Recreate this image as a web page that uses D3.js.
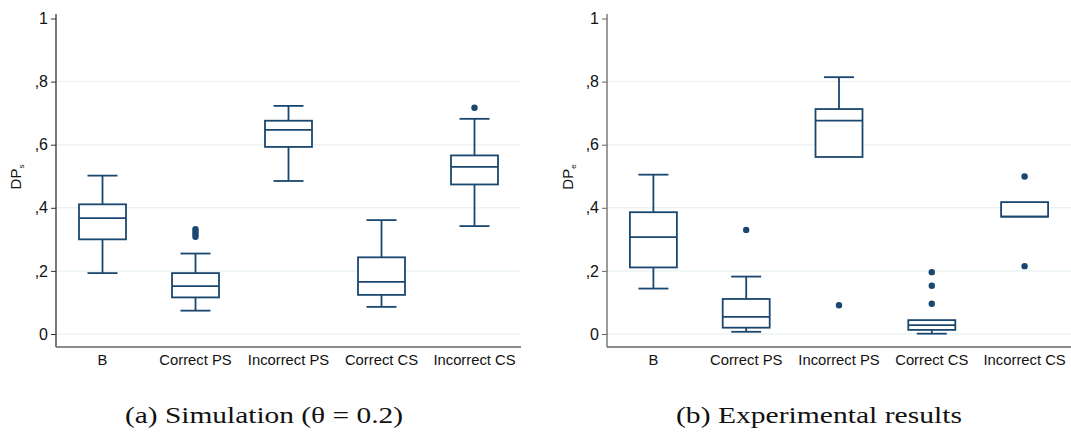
<!DOCTYPE html>
<html><head><meta charset="utf-8">
<script src="https://cdn.jsdelivr.net/npm/d3@7"></script>
<style>body{margin:0;background:#fff}</style>
</head><body>
<svg id="c" width="1071" height="432"></svg>
<script>
const categories = ["B","Correct PS","Incorrect PS","Correct CS","Incorrect CS"];
const yTicks = [0,0.2,0.4,0.6,0.8,1];
const yTickLabels = ["0",",2",",4",",6",",8","1"];

// Panel (a) Simulation
const simLow    = [0.193,0.074,0.485,0.086,0.342];
const simQ1     = [0.300,0.116,0.593,0.124,0.474];
const simMedian = [0.367,0.152,0.647,0.165,0.530];
const simQ3     = [0.411,0.193,0.676,0.243,0.566];
const simHigh   = [0.502,0.255,0.723,0.361,0.682];
const simOutliers = [[],[0.308,0.316,0.324,0.332],[],[],[0.717]];

// Panel (b) Experimental
const expLow    = [0.144,0.007,0.561,0.001,0.372];
const expQ1     = [0.211,0.020,0.561,0.013,0.372];
const expMedian = [0.307,0.054,0.676,0.028,0.372];
const expQ3     = [0.386,0.111,0.713,0.044,0.418];
const expHigh   = [0.505,0.182,0.814,0.044,0.418];
const expOutliers = [[],[0.330],[0.091],[0.096,0.153,0.196],[0.499,0.215]];

const captions = ["(a) Simulation (\u03B8 = 0.2)","(b) Experimental results"];
const yLabelSubs = ["s","e"];

const navy = "#1a476f";
const svg = d3.select("#c");
const sans = "Liberation Sans, Arial, sans-serif";

function panel(x0, x1, lo, q1, med, q3, hi, outl, sub, caption, capX, capW, labX, axisCol){
  const y = d3.scaleLinear().domain([0,1]).range([334,18.5]);
  const x = d3.scaleBand().domain(categories).range([x0,x1]).padding(0);
  const g = svg.append("g");
  g.selectAll(".grid").data(yTicks.slice(0,5)).enter().append("line")
    .attr("x1",x0).attr("x2",x1).attr("y1",d=>y(d)).attr("y2",d=>y(d))
    .attr("stroke","#edf3f3").attr("stroke-width",1.5);
  const ya = g.append("g").attr("transform",`translate(${x0},0)`)
    .call(d3.axisLeft(y).tickValues(yTicks).tickFormat((d,i)=>yTickLabels[i]).tickSize(5).tickPadding(3));
  ya.select(".domain").attr("d",`M0,347V14`).attr("stroke",axisCol).attr("stroke-width",1.3);
  ya.selectAll(".tick line").attr("stroke",axisCol);
  ya.selectAll(".tick text").attr("font-family",sans).attr("font-size",16).attr("fill","#111");
  const xa = g.append("g").attr("transform",`translate(0,347)`)
    .call(d3.axisBottom(x).tickSize(0).tickPadding(7));
  xa.select(".domain").attr("d",`M${x0},0H${x1}`).attr("stroke","#666").attr("stroke-width",1.3);
  xa.selectAll(".tick text").attr("font-family",sans).attr("font-size",14.8).attr("fill","#111");
  const t = g.append("text").attr("transform",`translate(${labX},177) rotate(-90)`)
    .attr("text-anchor","middle").attr("font-family",sans)
    .attr("font-size",15).attr("fill","#111");
  t.append("tspan").text("DP");
  t.append("tspan").text(sub).attr("font-size",8).attr("dy",3);
  const bw = 47, cw = 30;
  categories.forEach((c,i)=>{
    const cx = x(c) + x.bandwidth()/2;
    const ln = (xa1,ya1,xa2,ya2)=>g.append("line").attr("x1",xa1).attr("y1",ya1).attr("x2",xa2).attr("y2",ya2)
      .attr("stroke",navy).attr("stroke-width",1.8);
    if (hi[i] > q3[i]) { ln(cx,y(q3[i]),cx,y(hi[i])); ln(cx-cw/2,y(hi[i]),cx+cw/2,y(hi[i])); }
    if (lo[i] < q1[i]) { ln(cx,y(q1[i]),cx,y(lo[i])); ln(cx-cw/2,y(lo[i]),cx+cw/2,y(lo[i])); }
    g.append("rect").attr("x",cx-bw/2).attr("width",bw).attr("y",y(q3[i])).attr("height",y(q1[i])-y(q3[i]))
      .attr("fill","#fff").attr("stroke",navy).attr("stroke-width",1.8);
    ln(cx-bw/2,y(med[i]),cx+bw/2,y(med[i]));
    outl[i].forEach(v=>g.append("circle").attr("cx",cx).attr("cy",y(v)).attr("r",3.2).attr("fill",navy));
  });
  svg.append("text").attr("x",capX-capW/2).attr("y",423)
    .attr("textLength",capW).attr("lengthAdjust","spacingAndGlyphs")
    .attr("font-family","Liberation Serif, DejaVu Serif, serif").attr("font-size",22.5).attr("fill","#111").text(caption);
}

panel(56,521,simLow,simQ1,simMedian,simQ3,simHigh,simOutliers,yLabelSubs[0],captions[0],264,278,21,"#333");
panel(607,1071,expLow,expQ1,expMedian,expQ3,expHigh,expOutliers,yLabelSubs[1],captions[1],819,286,573,"#666");
</script>
</body></html>
